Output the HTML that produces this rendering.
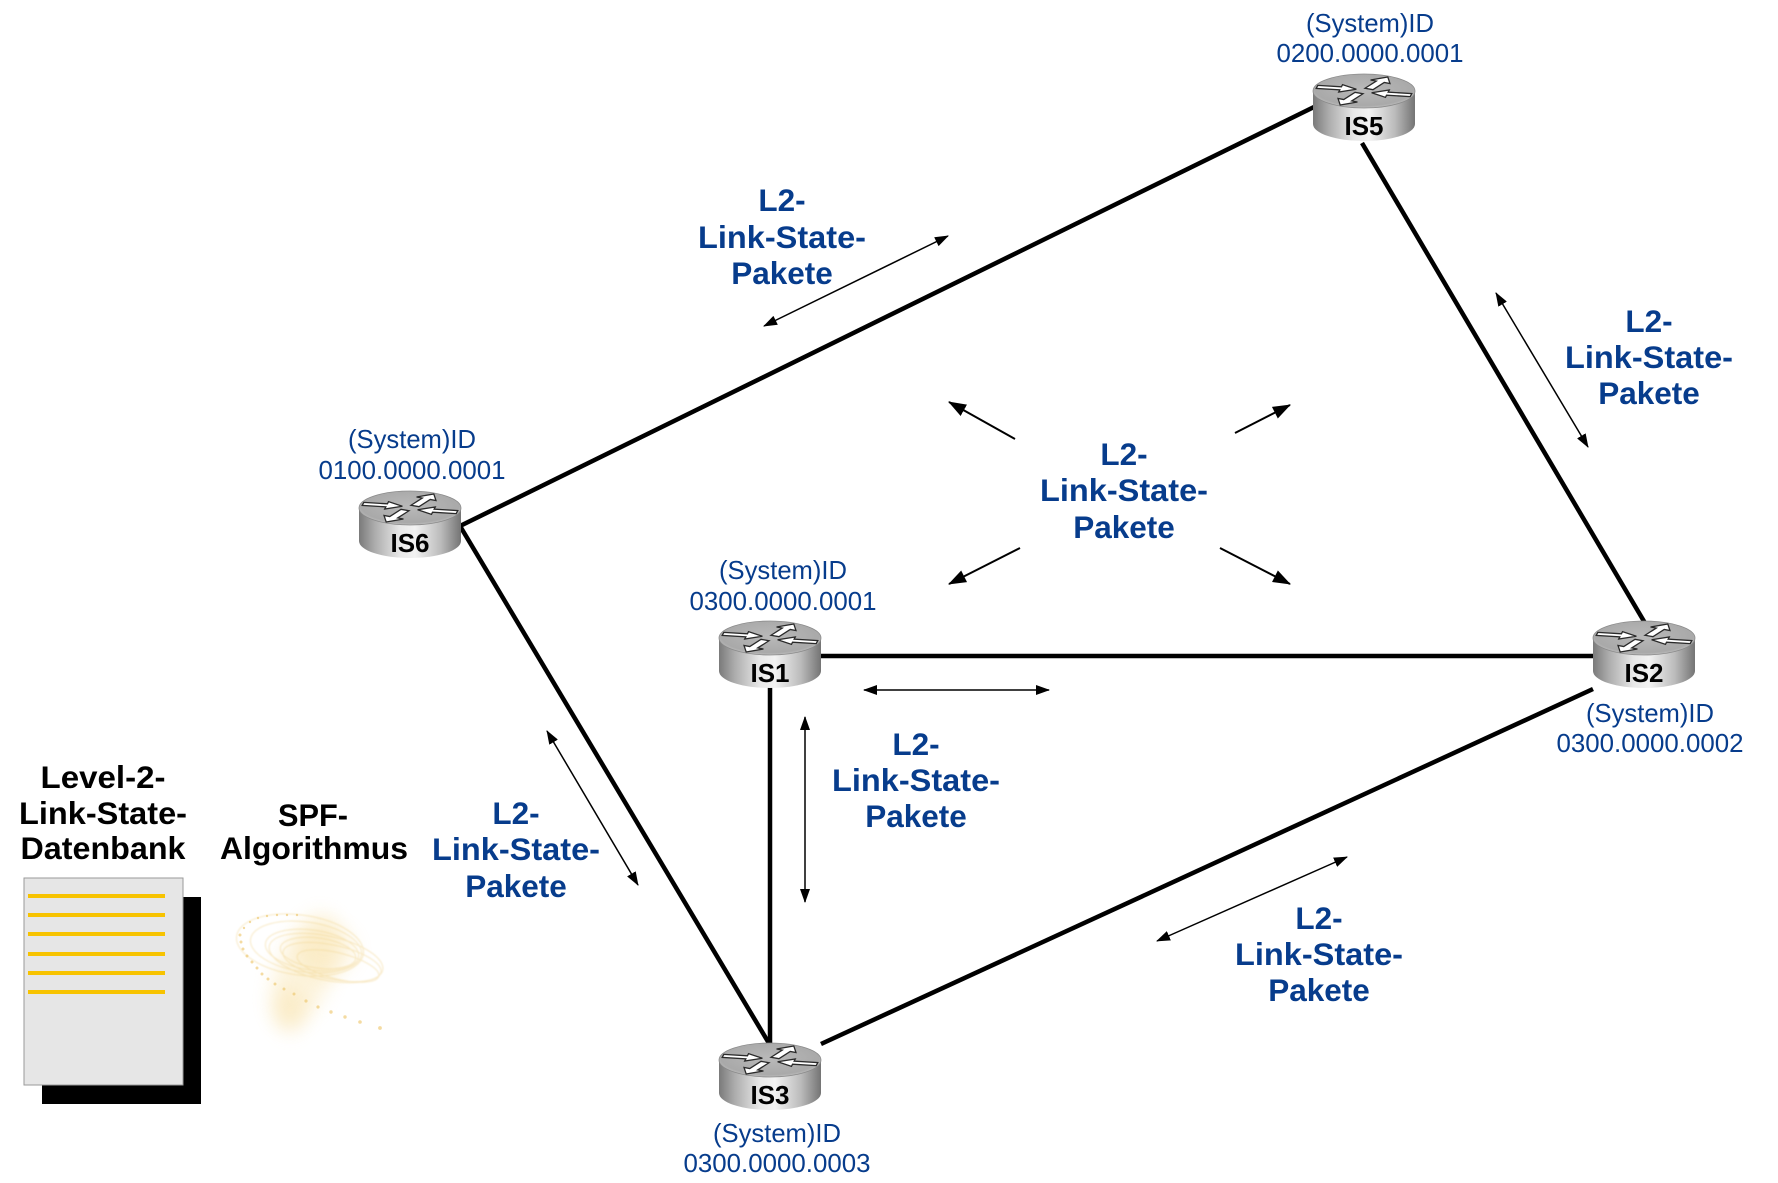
<!DOCTYPE html>
<html><head><meta charset="utf-8"><style>
html,body{margin:0;padding:0;background:#fff;}
svg{display:block;}
.id{font-family:"Liberation Sans",sans-serif;font-size:26px;fill:#073c8c;text-anchor:middle;}
.l2{font-family:"Liberation Sans",sans-serif;font-size:31.5px;font-weight:bold;fill:#073c8c;text-anchor:middle;}
.bk{font-family:"Liberation Sans",sans-serif;font-size:31.5px;font-weight:bold;fill:#000;text-anchor:middle;}
.rl{font-family:"Liberation Sans",sans-serif;font-size:26px;font-weight:bold;fill:#000;text-anchor:middle;}
</style></head><body>
<svg width="1778" height="1183" viewBox="0 0 1778 1183" xmlns="http://www.w3.org/2000/svg">
<defs>
<linearGradient id="side" x1="0" y1="0" x2="1" y2="0">
<stop offset="0" stop-color="#7a7a7a"/><stop offset="0.15" stop-color="#ababab"/>
<stop offset="0.4" stop-color="#e8e8e8"/><stop offset="0.55" stop-color="#f2f2f2"/>
<stop offset="0.8" stop-color="#bcbcbc"/><stop offset="1" stop-color="#747474"/>
</linearGradient>
<radialGradient id="top" cx="0.5" cy="0.45" r="0.6">
<stop offset="0" stop-color="#b9b9b9"/><stop offset="0.8" stop-color="#a9a9a9"/><stop offset="1" stop-color="#cbcbcb"/>
</radialGradient>
<polygon id="ar" points="0,-4.5 24,-4.5 24,-11 40,0 24,11 24,4.5 0,4.5" fill="#fff" stroke="#2a2a2a" stroke-width="1.3" vector-effect="non-scaling-stroke"/>
<g id="router">
<path d="M-51 0 L-51 33 A51 17 0 0 0 51 33 L51 0 Z" fill="url(#side)"/>
<ellipse cx="0" cy="0" rx="51" ry="17" fill="url(#top)" stroke="#8a8a8a" stroke-width="0.8"/>
<g transform="scale(1,0.34)">
<use href="#ar" transform="translate(-47,-12) rotate(10)"/>
<use href="#ar" transform="translate(47,12) rotate(190)"/>
<use href="#ar" transform="translate(5,-6) rotate(-62)"/>
<use href="#ar" transform="translate(-5,6) rotate(118)"/>
</g>
</g>
<marker id="h" viewBox="0 0 14 10" refX="13" refY="5" markerWidth="14" markerHeight="10" markerUnits="userSpaceOnUse" orient="auto-start-reverse">
<path d="M0,0 L14,5 L0,10 Z" fill="#000"/>
</marker>
<marker id="h2" viewBox="0 0 18 13" refX="17" refY="6.5" markerWidth="18" markerHeight="13" markerUnits="userSpaceOnUse" orient="auto">
<path d="M0,0 L18,6.5 L0,13 Z" fill="#000"/>
</marker>
<filter id="blur" x="-60%" y="-60%" width="220%" height="220%"><feGaussianBlur stdDeviation="9"/></filter>
<filter id="blur2" x="-50%" y="-50%" width="200%" height="200%"><feGaussianBlur stdDeviation="0.8"/></filter>
</defs>

<!-- thick links -->
<g stroke="#000" stroke-width="4.5" fill="none">
<line x1="460" y1="526" x2="1314" y2="107"/>
<line x1="1362" y1="143" x2="1645" y2="623"/>
<line x1="460" y1="526" x2="770" y2="1045"/>
<line x1="815" y1="656" x2="1595" y2="656"/>
<line x1="770" y1="686" x2="770" y2="1045"/>
<line x1="821" y1="1044" x2="1593" y2="689"/>
</g>

<!-- thin double arrows -->
<g stroke="#000" stroke-width="1.5" fill="none" marker-start="url(#h)" marker-end="url(#h)">
<line x1="764" y1="326" x2="948" y2="236"/>
<line x1="1496" y1="293" x2="1588" y2="447"/>
<line x1="547" y1="731" x2="638" y2="885"/>
<line x1="864" y1="690" x2="1049" y2="690"/>
<line x1="805" y1="717" x2="805" y2="902"/>
<line x1="1157" y1="941" x2="1347" y2="857"/>
</g>

<!-- center radiating arrows -->
<g stroke="#000" stroke-width="2" fill="none" marker-end="url(#h2)">
<line x1="1015" y1="439" x2="949" y2="402"/>
<line x1="1235" y1="433" x2="1290" y2="405"/>
<line x1="1020" y1="548" x2="949" y2="584"/>
<line x1="1220" y1="548" x2="1290" y2="584"/>
</g>

<!-- routers -->
<use href="#router" x="1364" y="91"/>
<use href="#router" x="410" y="508"/>
<use href="#router" x="770" y="638"/>
<use href="#router" x="1644" y="638"/>
<use href="#router" x="770" y="1060"/>
<text class="rl" x="1364" y="135">IS5</text>
<text class="rl" x="410" y="552">IS6</text>
<text class="rl" x="770" y="682">IS1</text>
<text class="rl" x="1644" y="682">IS2</text>
<text class="rl" x="770" y="1104">IS3</text>

<!-- system ID labels -->
<text class="id" x="1370" y="32" textLength="128" lengthAdjust="spacingAndGlyphs">(System)ID</text>
<text class="id" x="1370" y="62" textLength="187" lengthAdjust="spacingAndGlyphs">0200.0000.0001</text>
<text class="id" x="412" y="448" textLength="128" lengthAdjust="spacingAndGlyphs">(System)ID</text>
<text class="id" x="412" y="479" textLength="187" lengthAdjust="spacingAndGlyphs">0100.0000.0001</text>
<text class="id" x="783" y="579" textLength="128" lengthAdjust="spacingAndGlyphs">(System)ID</text>
<text class="id" x="783" y="610" textLength="187" lengthAdjust="spacingAndGlyphs">0300.0000.0001</text>
<text class="id" x="1650" y="722" textLength="128" lengthAdjust="spacingAndGlyphs">(System)ID</text>
<text class="id" x="1650" y="752" textLength="187" lengthAdjust="spacingAndGlyphs">0300.0000.0002</text>
<text class="id" x="777" y="1142" textLength="128" lengthAdjust="spacingAndGlyphs">(System)ID</text>
<text class="id" x="777" y="1172" textLength="187" lengthAdjust="spacingAndGlyphs">0300.0000.0003</text>

<!-- L2 labels -->
<g class="l2">
<text class="l2" x="782" y="211">L2-</text>
<text class="l2" x="782" y="248" textLength="168" lengthAdjust="spacingAndGlyphs">Link-State-</text>
<text class="l2" x="782" y="284">Pakete</text>

<text class="l2" x="1649" y="332">L2-</text>
<text class="l2" x="1649" y="368" textLength="168" lengthAdjust="spacingAndGlyphs">Link-State-</text>
<text class="l2" x="1649" y="404">Pakete</text>

<text class="l2" x="1124" y="465">L2-</text>
<text class="l2" x="1124" y="501" textLength="168" lengthAdjust="spacingAndGlyphs">Link-State-</text>
<text class="l2" x="1124" y="538">Pakete</text>

<text class="l2" x="916" y="755">L2-</text>
<text class="l2" x="916" y="791" textLength="168" lengthAdjust="spacingAndGlyphs">Link-State-</text>
<text class="l2" x="916" y="827">Pakete</text>

<text class="l2" x="516" y="824">L2-</text>
<text class="l2" x="516" y="860" textLength="168" lengthAdjust="spacingAndGlyphs">Link-State-</text>
<text class="l2" x="516" y="897">Pakete</text>

<text class="l2" x="1319" y="929">L2-</text>
<text class="l2" x="1319" y="965" textLength="168" lengthAdjust="spacingAndGlyphs">Link-State-</text>
<text class="l2" x="1319" y="1001">Pakete</text>
</g>

<!-- left labels -->
<text class="bk" x="103" y="788" textLength="125" lengthAdjust="spacingAndGlyphs">Level-2-</text>
<text class="bk" x="103" y="824" textLength="168" lengthAdjust="spacingAndGlyphs">Link-State-</text>
<text class="bk" x="103" y="859" textLength="165" lengthAdjust="spacingAndGlyphs">Datenbank</text>
<text class="bk" x="313" y="826" textLength="70" lengthAdjust="spacingAndGlyphs">SPF-</text>
<text class="bk" x="314" y="859" textLength="188" lengthAdjust="spacingAndGlyphs">Algorithmus</text>

<!-- database document -->
<rect x="42" y="897" width="159" height="207" fill="#000"/>
<rect x="24" y="878" width="159" height="207" fill="#e6e6e6" stroke="#9a9a9a" stroke-width="1"/>
<g fill="#f7c300">
<rect x="28" y="894" width="137" height="4"/>
<rect x="28" y="913" width="137" height="4"/>
<rect x="28" y="932" width="137" height="4"/>
<rect x="28" y="952" width="137" height="4"/>
<rect x="28" y="971" width="137" height="4"/>
<rect x="28" y="990" width="137" height="4"/>
</g>

<!-- SPF swirl -->
<g>
<ellipse cx="305" cy="970" rx="28" ry="60" transform="rotate(22 305 970)" fill="#f6d88a" opacity="0.28" filter="url(#blur)"/>
<ellipse cx="325" cy="950" rx="30" ry="26" fill="#f5d27a" opacity="0.22" filter="url(#blur)"/>
<ellipse cx="290" cy="1010" rx="16" ry="24" fill="#f6d68a" opacity="0.25" filter="url(#blur)"/>
<g fill="none" stroke="#f1d48e" stroke-width="1" opacity="0.5" filter="url(#blur2)">
<ellipse cx="300" cy="945" rx="64" ry="30" transform="rotate(8 300 945)"/>
<ellipse cx="306" cy="947" rx="56" ry="25" transform="rotate(8 306 947)"/>
<ellipse cx="312" cy="950" rx="47" ry="20" transform="rotate(8 312 950)"/>
<ellipse cx="318" cy="953" rx="38" ry="15" transform="rotate(8 318 953)"/>
<ellipse cx="326" cy="958" rx="58" ry="22" transform="rotate(12 326 958)"/>
<ellipse cx="332" cy="962" rx="50" ry="17" transform="rotate(12 332 962)"/>
<ellipse cx="338" cy="966" rx="42" ry="13" transform="rotate(14 338 966)"/>
</g>
<g fill="#edc466" opacity="0.6">
<circle cx="240" cy="935" r="1.5"/><circle cx="241" cy="942" r="1.5"/><circle cx="243" cy="949" r="1.5"/>
<circle cx="247" cy="956" r="1.5"/><circle cx="252" cy="962" r="1.5"/><circle cx="257" cy="968" r="1.5"/>
<circle cx="262" cy="974" r="1.5"/><circle cx="268" cy="979" r="1.5"/><circle cx="275" cy="984" r="1.5"/>
<circle cx="284" cy="989" r="1.5"/><circle cx="294" cy="994" r="1.5"/><circle cx="306" cy="1001" r="1.6"/>
<circle cx="318" cy="1007" r="1.6"/><circle cx="331" cy="1012" r="1.7"/><circle cx="345" cy="1017" r="1.7"/>
<circle cx="360" cy="1022" r="1.8"/><circle cx="380" cy="1028" r="1.9"/>
<circle cx="244" cy="928" r="1.2"/><circle cx="250" cy="922" r="1.2"/><circle cx="258" cy="918" r="1.2"/>
<circle cx="267" cy="916" r="1.2"/><circle cx="277" cy="915" r="1.2"/><circle cx="287" cy="915" r="1.2"/>
<circle cx="297" cy="915" r="1.2"/>
</g>
</g>
</svg>
</body></html>
